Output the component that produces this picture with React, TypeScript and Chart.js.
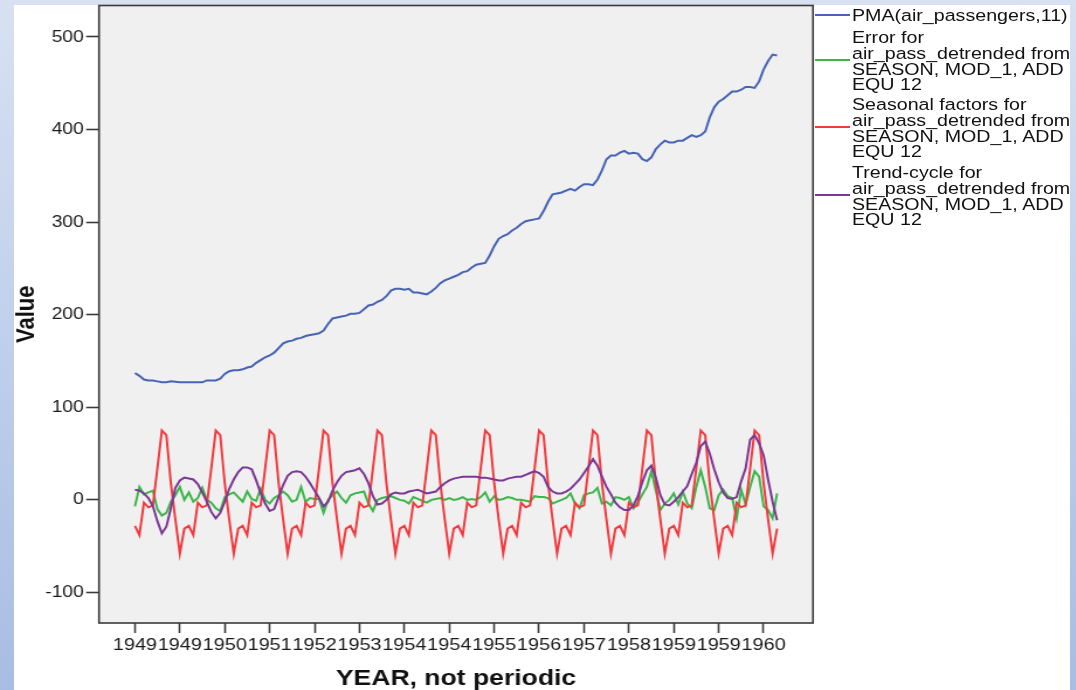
import React, { useEffect, useRef } from "react";
import { Chart, registerables } from "chart.js";
Chart.register(...registerables);

// PMA(air_passengers,11)
const pma = [
  137, 134, 130, 129, 129, 128, 127, 127, 128, 127.5, 127, 127,
  127, 127, 127, 127, 129, 129, 129, 131, 136, 139, 140, 140,
  141, 143, 144, 148, 151, 154, 156, 159, 164, 169, 171, 172,
  174, 175, 177, 178, 179, 180, 183, 190, 196, 197, 198, 199,
  201, 201, 202, 206, 210, 211, 214, 216, 220, 226, 228, 228,
  227, 228, 224, 224, 223, 222, 225, 229, 234, 237, 239, 241,
  243, 246, 247, 251, 254, 255, 256, 264, 274, 282, 285, 287,
  291, 294, 298, 301, 302, 303, 304, 312, 322, 330, 331, 332,
  334, 336, 334, 338, 341, 341, 340, 346, 356, 368, 372, 372,
  375, 377, 374, 375, 374, 368, 366, 370, 379, 384, 388, 386,
  386, 388, 388, 391, 394, 392, 394, 398, 413, 424, 430, 433,
  437, 441, 441, 443, 446, 446, 445, 452, 465, 474, 481, 480,
];

// Error for air_pass_detrended
const errorVals = [
  -7, 14, 6, 8, 10, -10, -17, -14, -2, 5, 14, 0,
  8, -2, 2, 13, 0, -3, -9, -12, 3, 6, 8, 3,
  -2, 9, 1, -1, 12, 0, -4, 2, 5, 9, 5, -2,
  0, 14, -2, 2, 1, 1, -14, 0, 5, 9, 2, -3,
  5, 7, 8, 9, -4, -12, 0, 2, 3, 4, 2, 0,
  -1, -4, 3, 1, -1, -3, 0, 1, 2, 0, 2, 0,
  1, 3, 0, 1, 0, 3, 8, -2, 4, 0, 1, 3,
  2, 0, 0, -1, -2, 4, 3, 3, 2, -4, -2, 0,
  2, 7, -4, -9, 5, 7, 8, 13, -4, -2, -6, 3,
  2, 0, 3, -9, -3, 6, 14, 31, 10, -11, -4, 0,
  7, -5, 9, -4, -9, 14, 32, 14, -9, -11, 5, 11,
  4, 2, -20, 11, -5, 14, 31, 25, -7, -11, -20, 7,
];

// Seasonal factors for air_pass_detrended
const seasonal = [
  -28, -38, -3, -8, -6, 34, 75, 70, 18, -21, -58, -31,
  -28, -38, -3, -8, -6, 34, 75, 70, 18, -21, -58, -31,
  -28, -38, -3, -8, -6, 34, 75, 70, 18, -21, -58, -31,
  -28, -38, -3, -8, -6, 34, 75, 70, 18, -21, -58, -31,
  -28, -38, -3, -8, -6, 34, 75, 70, 18, -21, -58, -31,
  -28, -38, -3, -8, -6, 34, 75, 70, 18, -21, -58, -31,
  -28, -38, -3, -8, -6, 34, 75, 70, 18, -21, -58, -31,
  -28, -38, -3, -8, -6, 34, 75, 70, 18, -21, -58, -31,
  -28, -38, -3, -8, -6, 34, 75, 70, 18, -21, -58, -31,
  -28, -38, -3, -8, -6, 34, 75, 70, 18, -21, -58, -31,
  -28, -38, -3, -8, -6, 34, 75, 70, 18, -21, -58, -31,
  -28, -38, -3, -8, -6, 34, 75, 70, 18, -21, -58, -31,
];

// Trend-cycle for air_pass_detrended
const trend = [
  11, 10, 7, 2, -7, -23, -36, -29, -9, 13, 21, 24,
  23, 22, 17, 8, -2, -13, -20, -14, -2, 12, 22, 30,
  35, 35, 33, 21, 7, -4, -12, -10, 3, 16, 26, 30,
  31, 30, 25, 18, 10, 2, -7, -2, 10, 19, 26, 30,
  31, 32, 34, 28, 18, 4, -5, -4, 0, 6, 8, 7,
  7, 9, 10, 11, 9, 7, 8, 9, 14, 18, 21, 23,
  24, 25, 25, 25, 25, 24, 24, 23, 22, 21, 21, 23,
  24, 25, 25, 27, 29, 31, 29, 25, 14, 9, 7, 7,
  9, 12, 17, 22, 29, 36, 44, 37, 25, 14, 6, -3,
  -8, -11, -11, -6, 4, 19, 32, 37, 24, 5, -5, -6,
  -2, 3, 9, 15, 28, 40, 58, 63, 50, 33, 19, 8,
  2, 1, 3, 20, 34, 65, 70, 61, 48, 22, -2, -22,
];

const yTicks = [-100, 0, 100, 200, 300, 400, 500];
const xTickIndex = [0, 10, 20, 30, 40, 50, 60, 70, 80, 90, 100, 110, 120, 130, 140];
const xTickLabels = [
  "1949", "1949", "1950", "1951", "1952", "1953", "1954", "1954",
  "1955", "1956", "1957", "1958", "1959", "1959", "1960",
];

const seriesNames = [
  ["PMA(air_passengers,11)"],
  ["Error for", "air_pass_detrended from", "SEASON, MOD_1, ADD", "EQU 12"],
  ["Seasonal factors for", "air_pass_detrended from", "SEASON, MOD_1, ADD", "EQU 12"],
  ["Trend-cycle for", "air_pass_detrended from", "SEASON, MOD_1, ADD", "EQU 12"],
];
const seriesColors = ["#4763b6", "#3cb64a", "#f23a3e", "#7d3795"];

const FONT = '"Liberation Sans", Arial, sans-serif';
const CANVAS_W = 903;
const CSS_W = 1056;
const H = 690;
const SX = CSS_W / CANVAS_W;

const framePlugin = {
  id: "frame",
  beforeDraw(chart: any) {
    const { ctx, chartArea: a } = chart;
    ctx.save();
    ctx.fillStyle = "#f0f0f0";
    ctx.fillRect(a.left, a.top, a.right - a.left, a.bottom - a.top);
    ctx.restore();
  },
  afterDraw(chart: any) {
    const { ctx, chartArea: a } = chart;
    ctx.save();
    ctx.strokeStyle = "#3a3a3a";
    ctx.lineWidth = 1.6;
    ctx.strokeRect(a.left, a.top, a.right - a.left, a.bottom - a.top);
    ctx.restore();
  },
};

export default function App() {
  const ref = useRef<HTMLCanvasElement | null>(null);

  useEffect(() => {
    if (!ref.current) return;
    const series = [pma, errorVals, seasonal, trend];
    const chart = new Chart(ref.current, {
      type: "line",
      data: {
        datasets: series.map((arr, k) => ({
          label: seriesNames[k].join(" "),
          data: arr.map((v, i) => ({ x: i, y: v })),
          borderColor: seriesColors[k],
          backgroundColor: seriesColors[k],
          borderWidth: 2,
          pointRadius: 0,
          tension: 0,
          fill: false,
          order: 3 - k,
        })),
      },
      options: {
        animation: false,
        responsive: false,
        devicePixelRatio: 1,
        events: [],
        layout: { padding: { top: 5.5, right: CANVAS_W - (813 - 14) / SX, left: 0, bottom: 0 } },
        plugins: { legend: { display: false }, tooltip: { enabled: false } },
        scales: {
          x: {
            type: "linear",
            min: -8,
            max: 151,
            afterBuildTicks: (s: any) => {
              s.ticks = xTickIndex.map((v) => ({ value: v }));
            },
            afterFit: (s: any) => {
              s.height = H - 623;
              s.paddingLeft = 0;
              s.paddingRight = 0;
            },
            ticks: {
              autoSkip: false,
              maxRotation: 0,
              minRotation: 0,
              padding: 2,
              color: "#1a1a1a",
              font: { family: FONT, size: 17 },
              callback: (_v: any, i: number) => xTickLabels[i],
            },
            grid: {
              drawOnChartArea: false,
              drawTicks: true,
              tickLength: 10,
              tickColor: "#3a3a3a",
              tickWidth: 1.6,
            },
            border: { display: false },
            title: {
              display: true,
              text: "YEAR, not periodic",
              color: "#111",
              font: { family: FONT, size: 22.7, weight: "bold", lineHeight: 1 },
              padding: { top: 0, bottom: 0 },
            },
          },
          y: {
            type: "linear",
            min: -133,
            max: 534,
            afterBuildTicks: (s: any) => {
              s.ticks = yTicks.map((v) => ({ value: v }));
            },
            afterFit: (s: any) => {
              s.width = (99 - 14) / SX;
              s.paddingTop = 0;
              s.paddingBottom = 0;
            },
            ticks: {
              padding: 2,
              color: "#1a1a1a",
              font: { family: FONT, size: 16.5 },
            },
            grid: {
              drawOnChartArea: false,
              drawTicks: true,
              tickLength: 11,
              tickColor: "#3a3a3a",
              tickWidth: 1.6,
            },
            border: { display: false },
            title: {
              display: true,
              text: "Value",
              color: "#111",
              font: { family: FONT, size: 22, weight: "bold", lineHeight: 1 },
              padding: { top: 0, bottom: 0 },
            },
          },
        },
      },
      plugins: [framePlugin],
    } as any);
    return () => chart.destroy();
  }, []);

  const lineH = 15.7;
  const firstCenters = [16, 38, 105, 173];

  return (
    <div
      style={{
        position: "fixed",
        left: 0,
        top: 0,
        width: 1076,
        height: H,
        overflow: "hidden",
        background: "linear-gradient(180deg, #d7e1f1 0%, #c2d1ec 45%, #a8bde3 100%)",
      }}
    >
      <div style={{ position: "absolute", left: 14, top: 5, width: CSS_W, height: H - 5, background: "#ffffff" }} />
      <canvas
        ref={ref}
        width={CANVAS_W}
        height={H}
        style={{ position: "absolute", left: 14, top: 0, width: CSS_W + "px", height: H + "px" }}
      />
      {seriesNames.map((lines, k) => {
        const top = firstCenters[k] - lineH / 2;
        const swatchY = firstCenters[k] + ((lines.length - 1) * lineH) / 2 - 1.5;
        return (
          <React.Fragment key={k}>
            <div
              style={{
                position: "absolute",
                left: 815,
                top: swatchY - 1,
                width: 35,
                height: 2,
                background: seriesColors[k],
              }}
            />
            <div
              style={{
                position: "absolute",
                left: 852,
                top,
                transform: `scaleX(${SX})`,
                transformOrigin: "left top",
                fontFamily: FONT,
                fontSize: 16.8,
                lineHeight: lineH + "px",
                color: "#111",
                whiteSpace: "nowrap",
              }}
            >
              {lines.map((t, j) => (
                <div key={j}>{t}</div>
              ))}
            </div>
          </React.Fragment>
        );
      })}
    </div>
  );
}
